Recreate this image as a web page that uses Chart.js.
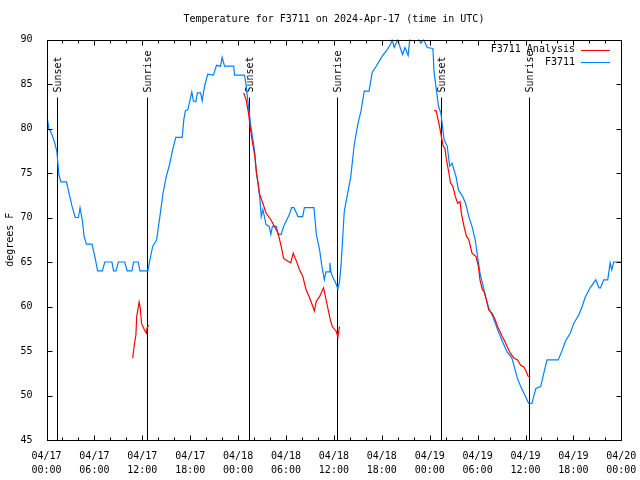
<!DOCTYPE html>
<html>
<head>
<meta charset="utf-8">
<script src="https://cdn.jsdelivr.net/npm/chart.js"></script>
<style>
  html, body { margin: 0; padding: 0; background: #fff; }
  canvas { display: block; }
</style>
</head>
<body>
<canvas id="tempChart" width="640" height="480"></canvas>
<script>
// hours since 04/17 00:00 UTC
const stationHours = [0.1, 0.3, 0.6, 1.0, 1.3, 1.55, 1.8, 2.5, 3.2, 3.6, 4.0, 4.2, 4.5, 4.7, 5.0, 5.7, 6.1, 6.4, 7.0, 7.3, 8.2, 8.4, 8.7, 9.0, 9.8, 10.1, 10.7, 10.9, 11.5, 11.7, 12.7, 12.9, 13.3, 13.8, 14.2, 14.6, 15.0, 15.4, 15.8, 16.2, 17.0, 17.2, 17.4, 17.7, 18.2, 18.4, 18.7, 18.9, 19.3, 19.5, 19.8, 20.2, 20.9, 21.3, 21.8, 22.0, 22.3, 23.45, 23.55, 24.8, 25.0, 25.2, 25.4, 25.6, 26.05, 26.3, 26.7, 26.9, 27.1, 27.5, 27.9, 28.1, 28.3, 28.8, 29.0, 29.4, 29.7, 30.4, 30.7, 31.0, 31.5, 32.1, 32.3, 33.5, 33.8, 34.2, 34.5, 34.8, 35.0, 35.4, 35.5, 35.6, 35.8, 36.2, 36.5, 36.7, 36.9, 37.1, 37.3, 37.7, 38.1, 38.55, 39.0, 39.4, 39.8, 40.4, 40.8, 41.3, 41.7, 42.1, 42.7, 43.1, 43.3, 43.55, 44.0, 44.3, 44.6, 44.9, 45.3, 45.5, 46.0, 46.5, 46.6, 46.9, 47.2, 47.5, 47.7, 48.4, 48.55, 48.8, 49.1, 49.4, 49.8, 50.2, 50.5, 50.8, 51.3, 51.6, 52.1, 52.5, 52.9, 53.3, 53.7, 54.0, 54.3, 54.7, 55.0, 55.4, 55.9, 56.5, 57.1, 57.7, 58.3, 59.0, 59.4, 60.0, 60.4, 60.8, 61.3, 61.9, 62.4, 62.7, 64.1, 64.6, 65.0, 65.6, 66.05, 66.7, 67.1, 67.5, 68.1, 68.8, 69.2, 69.4, 69.8, 70.3, 70.6, 70.8, 71.05, 72.0];
const stationTemps = [81.1, 80.0, 79.5, 78.5, 77.4, 74.8, 74.0, 74.0, 71.25, 70.0, 70.0, 71.1, 69.6, 67.9, 67.0, 67.0, 65.4, 64.0, 64.0, 65.0, 65.0, 64.0, 64.0, 65.0, 65.0, 64.0, 64.0, 65.0, 65.0, 64.0, 64.0, 65.0, 66.75, 67.5, 70.1, 72.75, 74.6, 75.9, 77.6, 79.0, 79.0, 81.0, 82.0, 82.1, 84.1, 83.1, 83.0, 84.0, 84.0, 83.1, 84.75, 86.1, 86.0, 87.1, 87.0, 88.0, 87.0, 87.0, 86.0, 86.0, 84.9, 83.25, 81.75, 80.25, 77.6, 75.0, 72.4, 70.1, 70.9, 69.2, 69.0, 68.1, 69.0, 69.0, 68.1, 68.1, 69.0, 70.3, 71.1, 71.1, 70.1, 70.1, 71.1, 71.1, 68.1, 66.4, 64.5, 63.0, 63.9, 63.9, 64.9, 64.0, 63.4, 62.7, 62.0, 62.7, 64.7, 67.7, 70.7, 72.6, 74.5, 78.2, 80.5, 82.0, 84.2, 84.2, 86.3, 87.0, 87.6, 88.2, 88.9, 89.5, 90.0, 89.1, 90.0, 89.1, 88.3, 89.1, 88.2, 90.0, 91.0, 90.5, 90.0, 89.6, 90.0, 89.5, 89.1, 89.0, 86.3, 84.6, 82.5, 81.75, 78.75, 78.0, 75.75, 76.1, 74.6, 73.1, 72.4, 71.6, 70.1, 69.0, 67.5, 65.6, 63.75, 62.25, 61.1, 59.8, 58.9, 57.4, 56.1, 54.9, 54.2, 51.9, 51.0, 49.9, 49.1, 49.1, 50.8, 51.0, 52.9, 54.0, 54.0, 55.1, 56.1, 57.0, 58.1, 59.1, 60.0, 61.1, 62.1, 63.0, 62.1, 62.1, 63.0, 63.0, 64.9, 64.1, 65.0, 65.0];

// analysis: null marks a gap between runs
const analysisHours = [10.8, 11.0, 11.2, 11.3, 11.5, 11.6, 11.75, 11.9, 12.2, 12.5, 12.6, 12.8, 18.0,
  24.7, 25.0, 25.3, 25.55, 25.8, 26.1, 26.3, 26.5, 26.7, 27.1, 27.5, 28.1, 28.55, 29.0, 29.4, 29.7, 30.2, 30.6, 30.9, 31.3, 31.7, 32.1, 32.5, 32.9, 33.2, 33.55, 33.8, 34.2, 34.7, 34.8, 35.2, 35.55, 35.8, 36.3, 36.5, 36.7, 42.0,
  48.55, 48.8, 49.05, 49.3, 49.5, 49.7, 49.9, 50.1, 50.4, 50.6, 50.9, 51.2, 51.5, 51.8, 52.0, 52.3, 52.6, 52.9, 53.1, 53.3, 53.8, 54.1, 54.3, 54.6, 54.8, 55.0, 55.4, 55.8, 56.2, 56.5, 56.8, 57.1, 57.4, 57.7, 58.1, 58.55, 59.0, 59.4, 59.8, 60.1, 60.3, 60.6];
const analysisTemps = [54.2, 55.7, 56.8, 58.9, 59.9, 60.5, 59.8, 58.1, 57.5, 57.0, 57.6, 57.9, null,
  84.0, 83.25, 81.75, 79.9, 78.4, 76.9, 75.0, 73.9, 72.6, 71.6, 70.5, 69.75, 69.0, 68.25, 66.75, 65.4, 65.1, 64.9, 66.0, 65.1, 64.1, 63.4, 61.9, 61.1, 60.4, 59.5, 60.6, 61.1, 62.1, 61.7, 60.0, 58.5, 57.75, 57.2, 56.55, 57.75, null,
  82.0, 82.0, 81.0, 79.9, 78.9, 78.0, 77.8, 76.5, 75.0, 73.9, 73.5, 72.4, 71.6, 71.8, 70.3, 69.0, 67.9, 67.5, 66.75, 66.0, 65.6, 64.5, 63.0, 61.9, 61.7, 61.1, 59.6, 59.25, 58.5, 57.75, 57.2, 56.6, 56.1, 55.5, 54.75, 54.2, 54.0, 53.4, 53.2, 52.7, 52.2, 52.05];

const sunHours = [1.35, 12.55, 25.4, 36.45, 49.4, 60.5];
const sunLabels = ["Sunset", "Sunrise", "Sunset", "Sunrise", "Sunset", "Sunrise"];

const FONT = "10px 'DejaVu Sans Mono', monospace";

function toPoints(xs, ys) {
  return xs.map((x, i) => ({ x: x, y: ys[i] }));
}

function tickLabel(v) {
  const day = 17 + Math.floor(v / 24);
  const hour = v % 24;
  return ["04/" + day, (hour < 10 ? "0" : "") + hour + ":00"];
}

// border, inward ticks, title, sun markers, legend
const decorPlugin = {
  id: "decor",
  beforeDatasetsDraw(chart) {
    const { ctx, chartArea: a, scales } = chart;
    ctx.save();
    ctx.strokeStyle = "#000";
    ctx.lineWidth = 1;
    ctx.fillStyle = "#000";
    ctx.font = FONT;
    sunHours.forEach((h, i) => {
      const x = Math.round(scales.x.getPixelForValue(h)) + 0.5;
      ctx.beginPath();
      ctx.moveTo(x, a.top + 58);
      ctx.lineTo(x, a.bottom);
      ctx.stroke();
      ctx.save();
      ctx.translate(x + 1, a.top + 53);
      ctx.rotate(-Math.PI / 2);
      ctx.textAlign = "left";
      ctx.textBaseline = "middle";
      ctx.fillText(sunLabels[i], 0, 0);
      ctx.restore();
    });
    ctx.restore();
  },
  afterDraw(chart) {
    const { ctx, chartArea: a, scales } = chart;
    ctx.save();
    ctx.strokeStyle = "#000";
    ctx.lineWidth = 1;
    const L = Math.round(a.left) + 0.5, R = Math.round(a.right) + 0.5;
    const T = Math.round(a.top) + 0.5, B = Math.round(a.bottom) + 0.5;
    ctx.strokeRect(L, T, R - L, B - T);
    ctx.beginPath();
    for (let v = 50; v < 90; v += 5) {
      const y = Math.round(scales.y.getPixelForValue(v)) + 0.5;
      ctx.moveTo(L, y); ctx.lineTo(L + 5, y);
      ctx.moveTo(R, y); ctx.lineTo(R - 5, y);
    }
    for (let h = 2; h < 72; h += 2) {
      const x = Math.round(scales.x.getPixelForValue(h)) + 0.5;
      const len = h % 6 === 0 ? 5 : 3;
      ctx.moveTo(x, B); ctx.lineTo(x, B - len);
      ctx.moveTo(x, T); ctx.lineTo(x, T + len);
    }
    ctx.stroke();

    ctx.fillStyle = "#000";
    ctx.font = FONT;
    ctx.textAlign = "center";
    ctx.textBaseline = "middle";
    ctx.fillText("Temperature for F3711 on 2024-Apr-17 (time in UTC)", (a.left + a.right) / 2, 19.5);

    ctx.save();
    ctx.translate(10, (a.top + a.bottom) / 2);
    ctx.rotate(-Math.PI / 2);
    ctx.fillText("degrees F", 0, 0);
    ctx.restore();

    // legend
    ctx.textAlign = "right";
    const entries = [["F3711 Analysis", "#ff0000"], ["F3711", "#0080ff"]];
    entries.forEach(([name, color], i) => {
      const y = a.top + 10 + i * 12.5;
      ctx.fillStyle = "#000";
      ctx.fillText(name, 575, y);
      ctx.strokeStyle = color;
      ctx.beginPath();
      ctx.moveTo(581, Math.round(y) + 0.5);
      ctx.lineTo(610, Math.round(y) + 0.5);
      ctx.stroke();
    });
    ctx.restore();
  }
};

new Chart(document.getElementById("tempChart").getContext("2d"), {
  type: "line",
  data: {
    datasets: [
      {
        label: "F3711 Analysis",
        data: toPoints(analysisHours, analysisTemps),
        borderColor: "#ff0000",
        borderWidth: 1.2,
        pointRadius: 0,
        spanGaps: false,
        tension: 0
      },
      {
        label: "F3711",
        data: toPoints(stationHours, stationTemps),
        borderColor: "#0080ff",
        borderWidth: 1.2,
        pointRadius: 0,
        tension: 0
      }
    ]
  },
  options: {
    responsive: false,
    animation: false,
    layout: { padding: { top: 39.5, right: 18.7, left: 0, bottom: 0 } },
    plugins: {
      legend: { display: false },
      tooltip: { enabled: false }
    },
    scales: {
      x: {
        type: "linear",
        min: 0,
        max: 72,
        afterFit: (s) => { s.height = 40; },
        grid: { display: false },
        border: { display: false },
        ticks: {
          stepSize: 6,
          autoSkip: false,
          maxRotation: 0,
          padding: 1,
          color: "#000",
          font: { family: "'DejaVu Sans Mono', monospace", size: 10, lineHeight: 1.4 },
          callback: tickLabel
        }
      },
      y: {
        min: 45,
        max: 90,
        afterFit: (s) => { s.width = 46.5; },
        grid: { display: false },
        border: { display: false },
        ticks: {
          stepSize: 5,
          padding: 6,
          color: "#000",
          font: { family: "'DejaVu Sans Mono', monospace", size: 10 }
        }
      }
    }
  },
  plugins: [decorPlugin]
});
</script>
</body>
</html>
